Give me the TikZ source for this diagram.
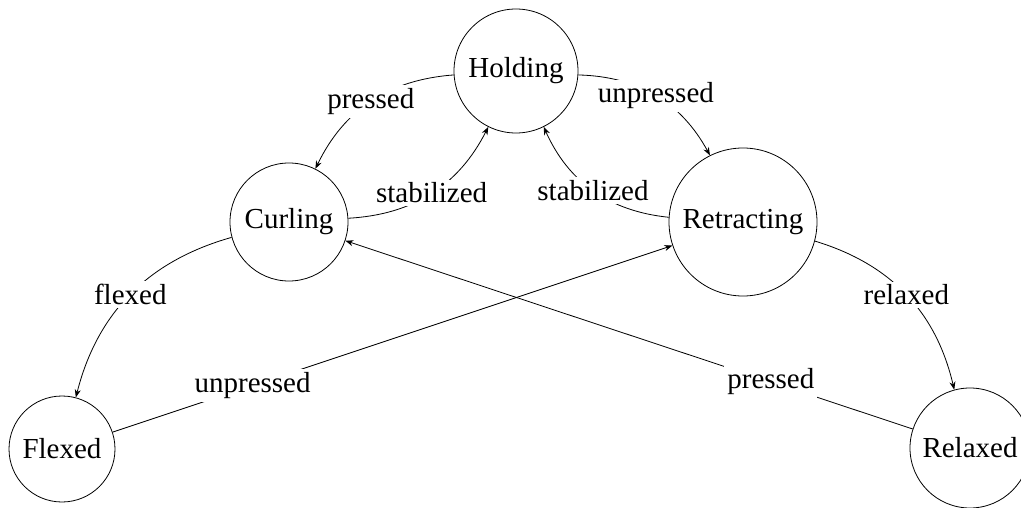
\documentclass[tikz,border=0pt]{standalone}
\usepackage{fontspec}
\setmainfont{Liberation Serif}
\usetikzlibrary{arrows.meta}
\begin{document}
\begin{tikzpicture}[x=1pt,y=1pt,
  every node/.style={font=\fontsize{29}{34}\selectfont},
  state/.style={draw,circle,inner sep=0pt,line width=0.8pt},
  lbl/.style={fill=white,inner sep=3pt},
  tr/.style={-{Stealth[length=8pt,width=6pt]},line width=0.8pt}]
\useasboundingbox (0,0) rectangle (1021,-508);
\node[state,minimum size=124pt] (H) at (516,-71) {Holding};
\node[state,minimum size=118pt] (C) at (289,-222) {Curling};
\node[state,minimum size=148pt] (R) at (743,-222) {Retracting};
\node[state,minimum size=106pt] (F) at (62,-449) {Flexed};
\node[state,minimum size=120pt] (X) at (970,-448) {Relaxed};
\draw[tr] (H) to[bend right=30] node[lbl]{pressed} (C);
\draw[tr] (H) to[bend left=30] node[lbl]{unpressed} (R);
\draw[tr] (C) to[bend right=30] node[lbl]{stabilized} (H);
\draw[tr] (R) to[bend left=30] node[lbl]{stabilized} (H);
\draw[tr] (C) to[bend right=30] node[lbl]{flexed} (F);
\draw[tr] (R) to[bend left=30] node[lbl]{relaxed} (X);
\draw[tr] (F) -- node[lbl,pos=0.25]{unpressed} (R);
\draw[tr] (X) -- node[lbl,pos=0.25]{pressed} (C);
\end{tikzpicture}
\end{document}
